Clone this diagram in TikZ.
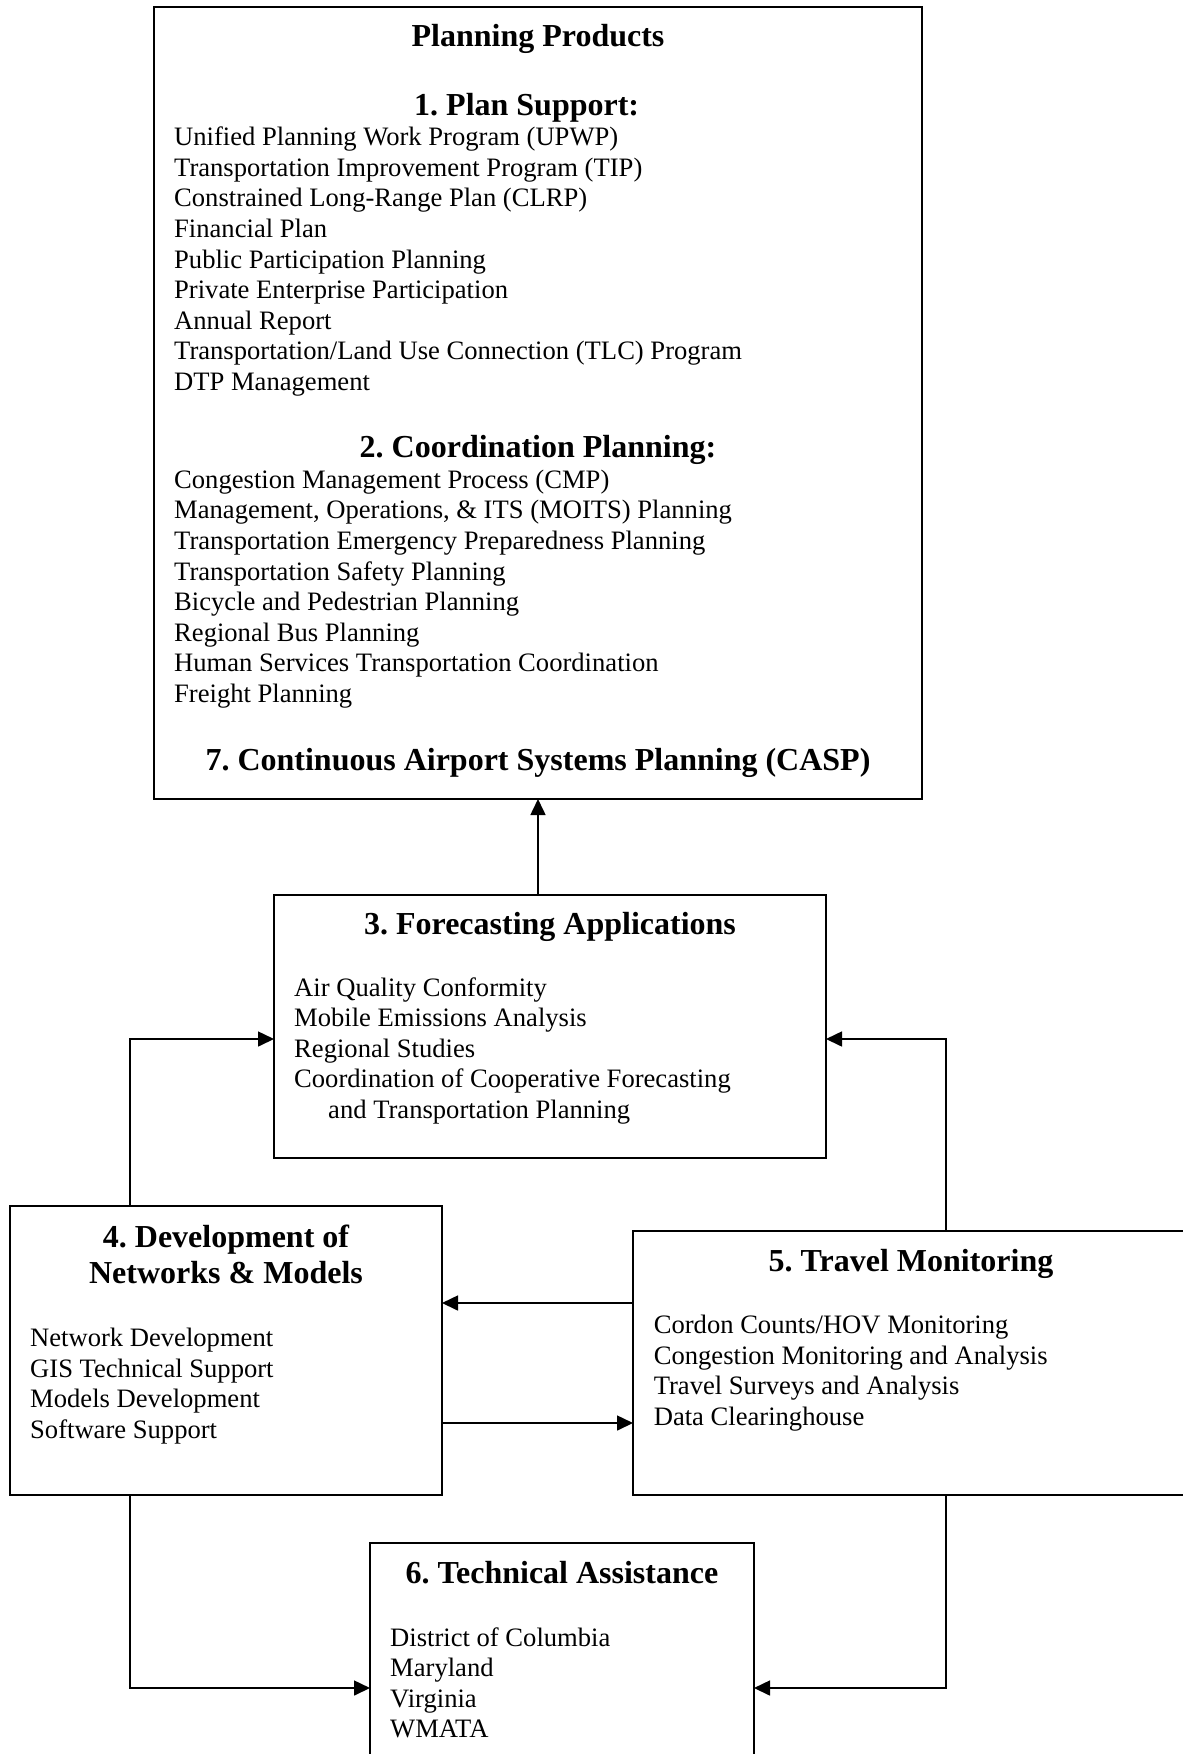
\documentclass[tikz,border=0pt]{standalone}
\usepackage{fontspec}
\setmainfont{Liberation Serif}
\usetikzlibrary{arrows.meta}
\frenchspacing
\begin{document}
\begin{tikzpicture}[x=1pt,y=-1pt,
  box/.style={draw,line width=2pt,rectangle,inner sep=0pt,outer sep=0pt},
  conn/.style={line width=1.6pt,-{Triangle[length=16pt,width=15pt]}},
  body/.style={anchor=base west,inner sep=0pt,font=\fontsize{26.6pt}{30.6pt}\selectfont},
  head/.style={anchor=base,inner sep=0pt,font=\fontsize{32pt}{36.8pt}\selectfont\bfseries},
  headw/.style={anchor=base west,inner sep=0pt,font=\fontsize{32pt}{36.8pt}\selectfont\bfseries}]
\useasboundingbox (0,0) rectangle (1183,1754);
\clip (0,0) rectangle (1183,1754);
% boxes
\node[box,minimum width=768pt,minimum height=792pt] (top) at (538,403) {};
\node[box,minimum width=552pt,minimum height=263pt] (fc) at (550,1026.5) {};
\node[box,minimum width=432pt,minimum height=289pt] (dev) at (226,1350.5) {};
\node[box,minimum width=567pt,minimum height=264pt] (tm) at (916.5,1363) {};
\node[box,minimum width=384pt,minimum height=237pt] (ta) at (562,1661.5) {};
% top box text
\node[head] (hpp) at (538,46.7) {Planning Products};
\node[headw] (h1) at (414,115) {1. Plan Support:};
\foreach \t [count=\i] in {Unified Planning Work Program (UPWP),
  Transportation Improvement Program (TIP),
  Constrained Long-Range Plan (CLRP),
  Financial Plan,
  Public Participation Planning,
  Private Enterprise Participation,
  Annual Report,
  Transportation/Land Use Connection (TLC) Program,
  DTP Management}
  {\node[body] (ps\i) at (174,{145.7+(\i-1)*30.6}) {\t};}
\node[head] (h2) at (538,457.3) {2. Coordination Planning:};
\foreach \t [count=\i] in {Congestion Management Process (CMP),
  {Management, Operations, \& ITS (MOITS) Planning},
  Transportation Emergency Preparedness Planning,
  Transportation Safety Planning,
  Bicycle and Pedestrian Planning,
  Regional Bus Planning,
  Human Services Transportation Coordination,
  Freight Planning}
  {\node[body] (cp\i) at (174,{488.3+(\i-1)*30.6}) {\t};}
\node[head] (h7) at (538,770) {7. Continuous Airport Systems Planning (CASP)};
% box 3
\node[head] (h3) at (550,934) {3. Forecasting Applications};
\foreach \t [count=\i] in {Air Quality Conformity,
  Mobile Emissions Analysis,
  Regional Studies,
  Coordination of Cooperative Forecasting}
  {\node[body] (fa\i) at (294,{996+(\i-1)*30.6}) {\t};}
\node[body] (fa5) at (328,1118.4) {and Transportation Planning};
% box 4
\node[head] (h4a) at (226,1247) {4. Development of};
\node[head] (h4b) at (226,1283.7) {Networks \& Models};
\foreach \t [count=\i] in {Network Development,
  GIS Technical Support,
  Models Development,
  Software Support}
  {\node[body] (nm\i) at (30,{1346.7+(\i-1)*30.6}) {\t};}
% box 5
\node[head] (h5) at (911,1271) {5. Travel Monitoring};
\foreach \t [count=\i] in {Cordon Counts/HOV Monitoring,
  Congestion Monitoring and Analysis,
  Travel Surveys and Analysis,
  Data Clearinghouse}
  {\node[body] (tv\i) at (653.6,{1333.5+(\i-1)*30.6}) {\t};}
% box 6
\node[head] (h6) at (562,1583) {6. Technical Assistance};
\foreach \t [count=\i] in {District of Columbia,
  Maryland,
  Virginia,
  WMATA}
  {\node[body] (ts\i) at (390,{1646+(\i-1)*30.6}) {\t};}
% connectors
\draw[conn] (top.south |- fc.north) -- (top.south);
\draw[conn] ([xshift=120pt]dev.north west) |- ([yshift=-12.5pt]fc.west);
\draw[conn] ([xshift=313pt]tm.north west) |- ([yshift=-12.5pt]fc.east);
\coordinate (p1) at ([yshift=-72pt]tm.north west);
\draw[conn] (p1) -- (p1 -| dev.east);
\coordinate (p2) at ([yshift=-217pt]dev.north east);
\draw[conn] (p2) -- (p2 -| tm.west);
\draw[conn] ([xshift=120pt]dev.south west) |- ([yshift=-26.5pt]ta.west);
\draw[conn] ([xshift=313pt]tm.south west) |- ([yshift=-26.5pt]ta.east);
\end{tikzpicture}
\end{document}
